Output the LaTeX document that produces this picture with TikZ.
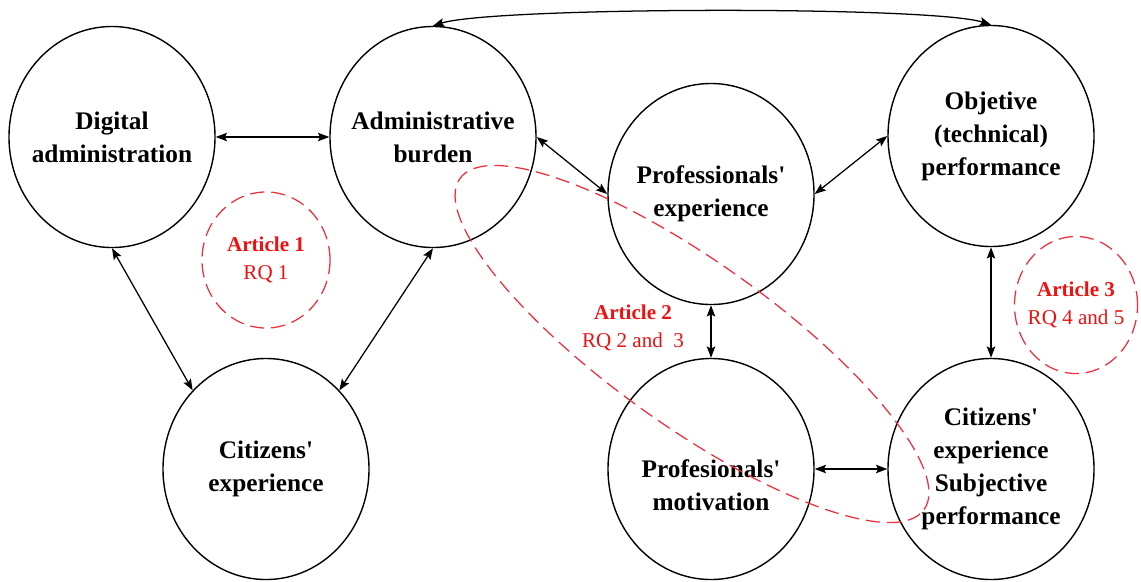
\documentclass[tikz,border=0pt]{standalone}
\usepackage{fontspec}
\setmainfont{Liberation Serif}
\usepackage{xcolor}
\usepackage{tikz}
\usetikzlibrary{arrows.meta, shapes.geometric}
\definecolor{artred}{HTML}{EE1111}
\definecolor{dashred}{HTML}{EC3040}

\begin{document}
\begin{tikzpicture}[
  x=0.025cm, y=-0.025cm,
  actor/.style={ellipse, draw, line width=1pt, minimum width=5.15cm,
    minimum height=5.525cm, inner sep=0pt},
  lbl/.style={font=\bfseries\fontsize{18}{23.5}\selectfont, align=center},
  study/.style={ellipse, draw=dashred, line width=0.9pt,
    dash pattern=on 10pt off 5pt, inner sep=0pt},
  note/.style={text=artred, font=\fontsize{15}{20}\selectfont, align=center},
  link/.style={{Stealth[length=8pt,width=6pt,inset=1.5pt]}-{Stealth[length=8pt,width=6pt,inset=1.5pt]},
    line width=0.9pt},
]
  \useasboundingbox (0,0) rectangle (1141,581);

  % concepts
  \node[actor, label={[lbl]center:Digital\\administration}] (dig) at (112,137) {};
  \node[actor, label={[lbl]center:Administrative\\burden}] (adm) at (433,137) {};
  \node[actor, label={[lbl]center:Professionals\textquotesingle\\experience}] (prof) at (711,194) {};
  \node[actor, label={[lbl]center:Objetive\\(technical)\\performance}] (obj) at (991,136) {};
  \node[actor, label={[lbl]center:Citizens\textquotesingle\\experience}] (cit) at (266,469) {};
  \node[actor, label={[lbl, yshift=-0.4cm]center:Profesionals\textquotesingle\\motivation}] (mot) at (711,469) {};
  \node[actor, label={[lbl]center:Citizens\textquotesingle\\experience\\Subjective\\performance}] (sub) at (991,469) {};

  % relations
  \draw[link] (dig.east) -- (adm.west);
  \draw[link] (adm.north) .. controls +(60,-19) and +(-60,-19) .. (obj.north);
  \draw[link] (adm.east) -- (prof.west);
  \draw[link] (prof.east) -- (obj.west);
  \draw[link] (dig.south) -- (cit.133);
  \draw[link] (adm.south) -- (cit.47);
  \draw[link] (obj.south) -- (sub.north);
  \draw[link] (prof.south) -- (mot.north);
  \draw[link] (mot.east) -- (sub.west);

  % articles
  \node[study, minimum width=3.2cm, minimum height=3.4cm,
    label={[note]center:\textbf{Article 1}\\RQ 1}] (art1) at (266,260) {};
  \node[study, minimum width=3.075cm, minimum height=3.425cm,
    label={[note]center:\textbf{Article 3}\\RQ 4 and 5}] (art3) at (1076,305) {};
  \node[study, minimum width=14.25cm, minimum height=4.1cm, rotate=-35.5] (art2) at (692,344) {};
  \node[note] (art2txt) at (633,328) {\textbf{Article 2}\\RQ 2 and\ \ 3};
\end{tikzpicture}
\end{document}
